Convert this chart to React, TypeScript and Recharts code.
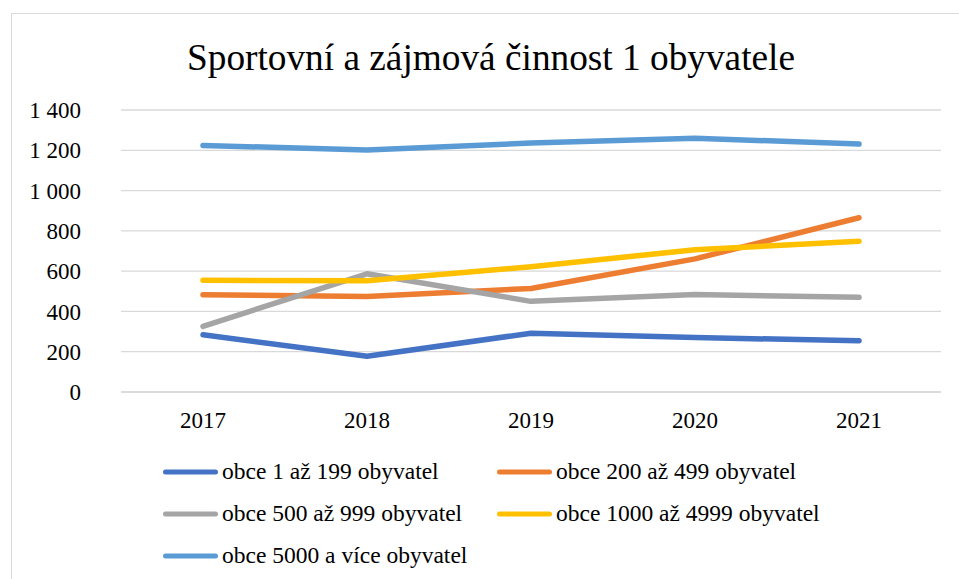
import React from 'react';
import { LineChart, Line, XAxis, YAxis, CartesianGrid, Legend } from 'recharts';

const years = ['2017', '2018', '2019', '2020', '2021'];
const obce1az199 = [284, 177, 292, 270, 255];
const obce200az499 = [483, 474, 514, 661, 865];
const obce500az999 = [326, 587, 450, 484, 470];
const obce1000az4999 = [555, 552, 622, 706, 749];
const obce5000aVice = [1224, 1202, 1236, 1260, 1231];
const yTicks = [0, 200, 400, 600, 800, 1000, 1200, 1400];

const series = [
  { key: 'a', name: 'obce 1 až 199 obyvatel', color: '#4472C4', values: obce1az199 },
  { key: 'b', name: 'obce 200 až 499 obyvatel', color: '#ED7D31', values: obce200az499 },
  { key: 'c', name: 'obce 500 až 999 obyvatel', color: '#A5A5A5', values: obce500az999 },
  { key: 'd', name: 'obce 1000 až 4999 obyvatel', color: '#FFC000', values: obce1000az4999 },
  { key: 'e', name: 'obce 5000 a více obyvatel', color: '#5B9BD5', values: obce5000aVice },
];

const data = years.map((year, i) => {
  const row: any = { year };
  series.forEach((s) => {
    row[s.key] = s.values[i];
  });
  return row;
});

const FONT = 'Liberation Serif';

const formatThousands = (v: number) => String(v).replace(/\B(?=(\d{3})+(?!\d))/g, ' ');

// legend keeps the series order (recharts would sort it by name), two columns
function LegendContent() {
  return (
    <svg width={700} height={126} style={{ display: 'block' }}>
      {series.map((s, i) => {
        const x = (i % 2) * 334;
        const y = Math.floor(i / 2) * 42 + 21;
        return (
          <g key={s.key}>
            <line x1={x + 5.5} x2={x + 55.5} y1={y} y2={y} stroke={s.color} strokeWidth={5} strokeLinecap="round" />
            <text x={x + 62} y={y + 7} fontFamily={FONT} fontSize={23.5} fill="#000">
              {s.name}
            </text>
          </g>
        );
      })}
    </svg>
  );
}

export default function App() {
  return (
    <div
      style={{
        position: 'absolute',
        left: 0,
        top: 0,
        width: 959,
        height: 579,
        overflow: 'hidden',
        background: '#fff',
      }}
    >
      <div
        style={{
          position: 'absolute',
          left: 11,
          top: 13,
          width: 980,
          height: 600,
          border: '1.5px solid #D9D9D9',
        }}
      />
      <svg width={959} height={100} style={{ position: 'absolute', left: 0, top: 0 }}>
        <text x={491} y={70} textAnchor="middle" fontFamily={FONT} fontSize={37.3} fill="#000">
          Sportovní a zájmová činnost 1 obyvatele
        </text>
      </svg>
      <div style={{ position: 'absolute', left: 0, top: 0 }}>
        <LineChart width={959} height={579} data={data} margin={{ top: 110, right: 18, bottom: 31, left: 0 }}>
          <CartesianGrid vertical={false} stroke="#D9D9D9" strokeWidth={1.3} />
          <XAxis
            dataKey="year"
            axisLine={{ stroke: '#D9D9D9', strokeWidth: 1.3 }}
            tickLine={false}
            tickSize={0}
            tickMargin={20}
            height={30}
            padding={{ left: 82, right: 82 }}
            tick={{ fill: '#000', fontFamily: FONT, fontSize: 23 }}
          />
          <YAxis
            domain={[0, 1400]}
            ticks={yTicks}
            interval={0}
            width={121}
            axisLine={false}
            tickLine={false}
            tickSize={0}
            tickMargin={40}
            tickFormatter={formatThousands}
            tick={{ fill: '#000', fontFamily: FONT, fontSize: 23 }}
          />
          <Legend
            verticalAlign="bottom"
            content={<LegendContent />}
            wrapperStyle={{ left: 160, top: 451, bottom: 'auto', width: 700 }}
          />
          {series.map((s) => (
            <Line
              key={s.key}
              type="linear"
              dataKey={s.key}
              name={s.name}
              stroke={s.color}
              strokeWidth={5.5}
              strokeLinecap="round"
              strokeLinejoin="round"
              dot={false}
              activeDot={false}
              isAnimationActive={false}
            />
          ))}
        </LineChart>
      </div>
    </div>
  );
}
